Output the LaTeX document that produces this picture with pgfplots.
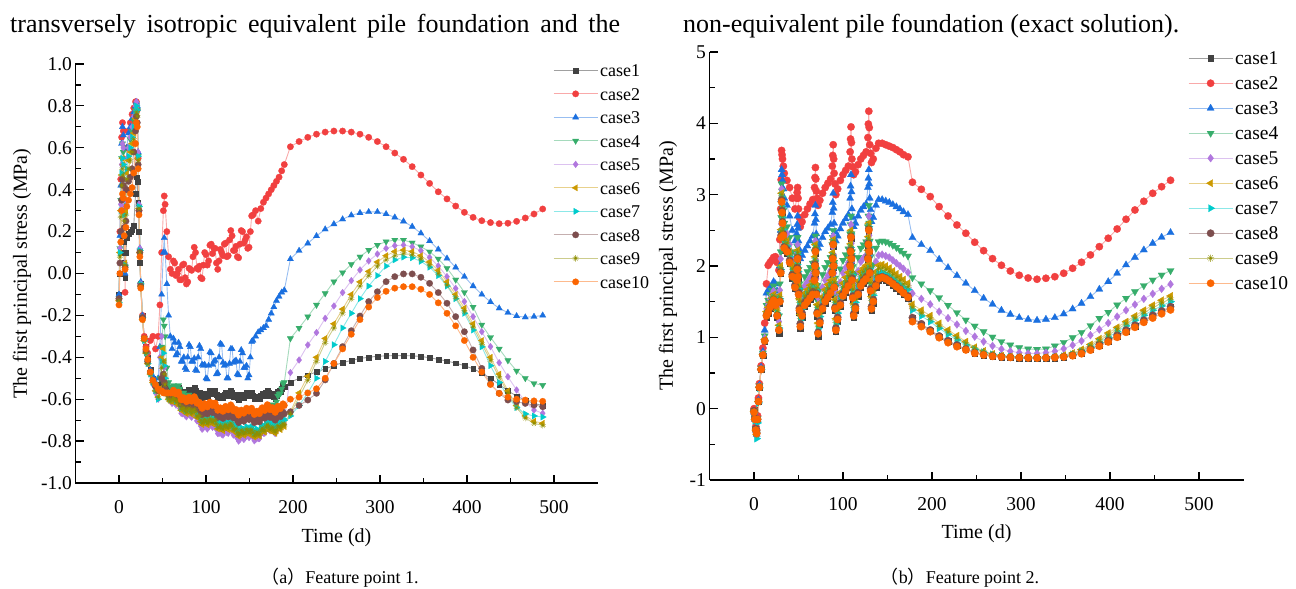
\documentclass[border=0pt]{standalone}
\usepackage{fontspec}
\setmainfont{Liberation Serif}
\newfontfamily\cjk{Noto Sans CJK SC}
\usepackage{pgfplots}
\usepackage{pgfplotstable}
\pgfplotsset{compat=1.18}

\definecolor{c1}{RGB}{66,66,66}
\definecolor{c2}{RGB}{241,64,64}
\definecolor{c3}{RGB}{26,111,223}
\definecolor{c4}{RGB}{55,173,107}
\definecolor{c5}{RGB}{177,119,222}
\definecolor{c6}{RGB}{204,153,0}
\definecolor{c7}{RGB}{0,203,204}
\definecolor{c8}{RGB}{125,78,78}
\definecolor{c9}{RGB}{142,142,0}
\definecolor{c10}{RGB}{251,101,1}

\newcommand\fs[1]{\fontsize{#1}{#1}\selectfont}

% feature point 1
\pgfplotstableread{
t c1 c2 c3 c4 c5 c6 c7 c8 c9 c10
0 -0.10 -0.12 -0.10 -0.12 -0.13 -0.13 -0.14 -0.12 -0.13 -0.15
1 0.00 0.20 0.18 0.12 0.12 0.10 0.10 0.05 0.08 0.00
2 0.10 0.45 0.42 0.35 0.33 0.30 0.30 0.20 0.27 0.15
3 0.15 0.65 0.62 0.55 0.52 0.47 0.48 0.35 0.42 0.30
4 0.18 0.72 0.70 0.62 0.62 0.55 0.55 0.45 0.50 0.38
5 0.15 0.68 0.66 0.58 0.60 0.52 0.52 0.42 0.47 0.36
6 0.05 0.30 0.35 0.30 0.32 0.28 0.28 0.22 0.25 0.18
7 -0.02 -0.09 0.00 0.02 0.05 0.05 0.04 0.03 0.04 0.02
8 0.10 0.40 0.40 0.35 0.35 0.30 0.32 0.25 0.28 0.22
9 0.17 0.60 0.60 0.55 0.55 0.48 0.50 0.40 0.45 0.32
11 0.19 0.68 0.67 0.60 0.60 0.54 0.56 0.44 0.50 0.35
13 0.20 0.72 0.70 0.64 0.65 0.58 0.60 0.46 0.54 0.38
15 0.21 0.76 0.74 0.68 0.70 0.62 0.65 0.50 0.58 0.41
17 0.23 0.79 0.77 0.73 0.75 0.67 0.70 0.58 0.64 0.48
19 0.38 0.82 0.80 0.78 0.80 0.74 0.77 0.68 0.72 0.62
20 0.46 0.82 0.82 0.80 0.82 0.78 0.80 0.75 0.77 0.72
21 0.44 0.78 0.80 0.78 0.80 0.76 0.78 0.72 0.75 0.70
22 0.34 0.55 0.58 0.56 0.58 0.55 0.56 0.52 0.54 0.50
23 0.20 0.30 0.33 0.32 0.33 0.31 0.32 0.30 0.31 0.28
24 0.05 0.10 0.12 0.11 0.12 0.10 0.11 0.10 0.10 0.08
25 -0.05 -0.05 -0.04 -0.05 -0.05 -0.06 -0.05 -0.06 -0.06 -0.07
27 -0.20 -0.20 -0.20 -0.21 -0.21 -0.22 -0.21 -0.21 -0.22 -0.22
29 -0.30 -0.30 -0.31 -0.31 -0.32 -0.32 -0.32 -0.31 -0.32 -0.31
31 -0.35 -0.35 -0.37 -0.37 -0.38 -0.38 -0.38 -0.37 -0.38 -0.36
33 -0.40 -0.38 -0.41 -0.42 -0.43 -0.43 -0.43 -0.42 -0.43 -0.41
36 -0.46 -0.32 -0.46 -0.47 -0.48 -0.48 -0.48 -0.47 -0.48 -0.47
39 -0.50 -0.30 -0.49 -0.51 -0.53 -0.52 -0.52 -0.51 -0.52 -0.51
42 -0.53 -0.36 -0.52 -0.54 -0.57 -0.56 -0.56 -0.54 -0.56 -0.53
45 -0.55 -0.30 -0.50 -0.55 -0.60 -0.59 -0.60 -0.56 -0.59 -0.55
47 -0.55 -0.15 -0.35 -0.50 -0.40 -0.55 -0.55 -0.56 -0.56 -0.56
49 -0.52 0.10 -0.10 -0.35 -0.30 -0.40 -0.42 -0.50 -0.45 -0.56
51 -0.52 0.30 0.10 -0.22 -0.38 -0.36 -0.38 -0.48 -0.42 -0.57
52 -0.53 0.37 0.17 -0.25 -0.45 -0.42 -0.44 -0.52 -0.48 -0.57
53 -0.54 0.33 0.10 -0.30 -0.50 -0.50 -0.50 -0.55 -0.53 -0.57
55 -0.55 0.20 -0.05 -0.45 -0.57 -0.57 -0.56 -0.57 -0.58 -0.57
57 -0.56 0.08 -0.20 -0.52 -0.60 -0.60 -0.59 -0.58 -0.60 -0.57
59 -0.56 0.02 -0.30 -0.54 -0.61 -0.61 -0.60 -0.59 -0.61 -0.57
61 -0.555 0.00 -0.36 -0.550 -0.620 -0.610 -0.600 -0.590 -0.604 -0.570
62.5 -0.540 0.06 -0.31 -0.534 -0.607 -0.598 -0.588 -0.577 -0.592 -0.557
64 -0.545 0.05 -0.33 -0.538 -0.613 -0.606 -0.595 -0.583 -0.600 -0.563
65.5 -0.556 -0.01 -0.39 -0.548 -0.628 -0.620 -0.609 -0.596 -0.614 -0.575
67 -0.546 0.00 -0.38 -0.538 -0.622 -0.613 -0.602 -0.589 -0.607 -0.567
68.5 -0.543 0.02 -0.33 -0.534 -0.624 -0.613 -0.602 -0.588 -0.607 -0.566
70 -0.560 -0.03 -0.35 -0.550 -0.645 -0.633 -0.621 -0.606 -0.627 -0.584
71.5 -0.577 -0.03 -0.42 -0.572 -0.667 -0.653 -0.641 -0.625 -0.647 -0.603
73 -0.573 0.04 -0.42 -0.573 -0.669 -0.653 -0.640 -0.624 -0.647 -0.601
74.5 -0.564 0.045 -0.40 -0.569 -0.663 -0.647 -0.634 -0.617 -0.641 -0.593
76 -0.575 -0.02 -0.45 -0.584 -0.677 -0.661 -0.647 -0.629 -0.655 -0.605
77.5 -0.580 -0.05 -0.46 -0.594 -0.684 -0.669 -0.655 -0.636 -0.663 -0.612
79 -0.564 -0.04 -0.40 -0.583 -0.671 -0.656 -0.642 -0.622 -0.650 -0.598
80.5 -0.555 0.025 -0.34 -0.579 -0.665 -0.650 -0.635 -0.615 -0.644 -0.591
82 -0.566 0.02 -0.35 -0.594 -0.679 -0.664 -0.648 -0.628 -0.658 -0.603
83.5 -0.571 0.015 -0.42 -0.604 -0.686 -0.672 -0.656 -0.635 -0.666 -0.610
85 -0.555 0.08 -0.42 -0.593 -0.673 -0.660 -0.643 -0.621 -0.654 -0.596
86.5 -0.546 0.125 -0.405 -0.589 -0.667 -0.654 -0.637 -0.614 -0.648 -0.588
88 -0.557 0.10 -0.46 -0.604 -0.681 -0.667 -0.650 -0.626 -0.661 -0.600
89.5 -0.574 0.025 -0.465 -0.626 -0.703 -0.687 -0.670 -0.645 -0.681 -0.619
91 -0.571 0.02 -0.40 -0.627 -0.705 -0.687 -0.669 -0.644 -0.681 -0.617
92.5 -0.568 0.035 -0.345 -0.629 -0.707 -0.687 -0.669 -0.643 -0.681 -0.615
94 -0.584 -0.02 -0.36 -0.650 -0.728 -0.707 -0.688 -0.661 -0.701 -0.633
95.5 -0.595 -0.025 -0.435 -0.666 -0.743 -0.721 -0.702 -0.674 -0.715 -0.644
97 -0.586 0.04 -0.44 -0.661 -0.737 -0.714 -0.695 -0.667 -0.708 -0.635
98.5 -0.571 0.10 -0.435 -0.651 -0.724 -0.702 -0.683 -0.654 -0.696 -0.621
100 -0.575 0.09 -0.50 -0.660 -0.730 -0.710 -0.690 -0.660 -0.704 -0.626
101.5 -0.586 0.04 -0.505 -0.671 -0.742 -0.722 -0.702 -0.671 -0.716 -0.637
103 -0.576 0.06 -0.44 -0.662 -0.734 -0.714 -0.694 -0.662 -0.708 -0.628
104.5 -0.560 0.135 -0.375 -0.648 -0.718 -0.700 -0.680 -0.648 -0.694 -0.614
106 -0.564 0.14 -0.38 -0.653 -0.722 -0.705 -0.685 -0.653 -0.699 -0.619
107.5 -0.575 0.095 -0.435 -0.664 -0.734 -0.717 -0.697 -0.664 -0.711 -0.630
109 -0.565 0.12 -0.42 -0.655 -0.726 -0.709 -0.689 -0.655 -0.703 -0.621
110.5 -0.561 0.12 -0.415 -0.653 -0.725 -0.707 -0.687 -0.653 -0.701 -0.618
112 -0.577 0.05 -0.48 -0.670 -0.744 -0.724 -0.704 -0.670 -0.718 -0.635
113.5 -0.594 0.02 -0.475 -0.687 -0.764 -0.742 -0.722 -0.687 -0.736 -0.653
115 -0.590 0.06 -0.40 -0.684 -0.763 -0.740 -0.720 -0.684 -0.734 -0.650
116.5 -0.581 0.115 -0.335 -0.675 -0.755 -0.732 -0.712 -0.675 -0.726 -0.641
118 -0.591 0.10 -0.34 -0.686 -0.767 -0.744 -0.724 -0.686 -0.738 -0.652
119.5 -0.595 0.085 -0.425 -0.692 -0.771 -0.750 -0.730 -0.692 -0.744 -0.658
121 -0.579 0.14 -0.44 -0.677 -0.755 -0.735 -0.715 -0.677 -0.729 -0.643
122.5 -0.570 0.145 -0.435 -0.668 -0.747 -0.727 -0.707 -0.668 -0.721 -0.634
124 -0.580 0.08 -0.50 -0.679 -0.759 -0.739 -0.719 -0.679 -0.733 -0.645
125.5 -0.585 0.085 -0.50 -0.685 -0.763 -0.745 -0.725 -0.685 -0.739 -0.651
127 -0.569 0.16 -0.43 -0.670 -0.747 -0.730 -0.710 -0.670 -0.724 -0.636
128.5 -0.559 0.205 -0.36 -0.661 -0.739 -0.722 -0.702 -0.661 -0.716 -0.627
130 -0.569 0.18 -0.36 -0.672 -0.751 -0.734 -0.714 -0.672 -0.728 -0.638
131.5 -0.586 0.11 -0.425 -0.689 -0.771 -0.752 -0.732 -0.689 -0.746 -0.655
133 -0.582 0.11 -0.42 -0.686 -0.770 -0.750 -0.730 -0.686 -0.744 -0.652
134.5 -0.578 0.13 -0.415 -0.684 -0.769 -0.748 -0.728 -0.684 -0.742 -0.649
136 -0.594 0.08 -0.48 -0.701 -0.788 -0.765 -0.745 -0.701 -0.759 -0.665
137.5 -0.605 0.075 -0.485 -0.712 -0.800 -0.777 -0.757 -0.712 -0.771 -0.676
139 -0.595 0.14 -0.42 -0.703 -0.792 -0.769 -0.749 -0.703 -0.763 -0.667
140.5 -0.579 0.205 -0.365 -0.689 -0.776 -0.755 -0.735 -0.689 -0.749 -0.652
142 -0.583 0.20 -0.38 -0.694 -0.780 -0.760 -0.740 -0.694 -0.754 -0.656
143.5 -0.594 0.145 -0.45 -0.705 -0.792 -0.772 -0.752 -0.705 -0.766 -0.667
145 -0.584 0.16 -0.45 -0.696 -0.784 -0.764 -0.744 -0.696 -0.758 -0.658
146.5 -0.569 0.175 -0.44 -0.681 -0.769 -0.750 -0.730 -0.681 -0.744 -0.643
148 -0.573 0.12 -0.50 -0.686 -0.773 -0.756 -0.736 -0.686 -0.750 -0.647
149.5 -0.583 0.125 -0.485 -0.696 -0.783 -0.767 -0.747 -0.697 -0.761 -0.657
151 -0.573 0.20 -0.40 -0.686 -0.773 -0.757 -0.737 -0.687 -0.751 -0.647
152.5 -0.569 0.275 -0.325 -0.680 -0.768 -0.752 -0.731 -0.682 -0.746 -0.643
154 -0.584 0.28 -0.32 -0.693 -0.783 -0.766 -0.745 -0.697 -0.760 -0.658
155.5 -0.600 nan nan -0.706 -0.798 -0.781 -0.759 -0.712 -0.775 -0.673
157 -0.595 0.30 -0.30 -0.699 -0.793 -0.775 -0.753 -0.707 -0.769 -0.668
158.5 -0.585 nan nan -0.687 -0.781 -0.764 -0.742 -0.696 -0.758 -0.657
160 -0.594 0.25 -0.28 -0.694 -0.788 -0.772 -0.750 -0.705 -0.766 -0.666
161.5 -0.598 nan nan -0.695 -0.788 -0.775 -0.752 -0.708 -0.769 -0.669
163 -0.581 0.31 -0.27 -0.676 -0.767 -0.757 -0.734 -0.690 -0.751 -0.652
164.5 -0.571 nan nan -0.664 -0.755 -0.746 -0.722 -0.679 -0.740 -0.641
166 -0.580 0.34 -0.26 -0.671 -0.762 -0.754 -0.730 -0.688 -0.748 -0.650
167.5 -0.584 nan nan -0.672 -0.762 -0.757 -0.732 -0.691 -0.751 -0.654
169 -0.567 0.36 -0.25 -0.653 -0.742 -0.739 -0.714 -0.674 -0.733 -0.637
170.5 -0.557 nan nan -0.641 -0.729 -0.728 -0.703 -0.663 -0.722 -0.626
172 -0.566 0.38 -0.22 -0.648 -0.736 -0.736 -0.711 -0.672 -0.730 -0.635
173.5 -0.582 nan nan -0.654 -0.751 -0.751 -0.725 -0.687 -0.745 -0.650
175 -0.577 0.40 -0.19 -0.640 -0.746 -0.745 -0.719 -0.681 -0.739 -0.645
176.5 -0.573 nan nan -0.626 -0.741 -0.740 -0.713 -0.676 -0.734 -0.640
178 -0.588 0.42 -0.16 -0.632 -0.756 -0.754 -0.727 -0.691 -0.748 -0.654
179.5 -0.596 nan nan -0.632 -0.764 -0.763 -0.735 -0.700 -0.757 -0.663
181 -0.584 0.44 -0.13 -0.612 -0.751 -0.751 -0.723 -0.689 -0.745 -0.651
182.5 -0.563 nan nan -0.584 -0.731 -0.734 -0.706 -0.672 -0.728 -0.634
184 -0.561 0.46 -0.11 -0.575 -0.730 -0.736 -0.708 -0.675 -0.730 -0.636
185.5 -0.566 nan nan -0.573 -0.738 -0.745 -0.716 -0.684 -0.739 -0.645
187 -0.551 0.49 -0.09 -0.550 -0.725 -0.733 -0.704 -0.672 -0.727 -0.633
188.5 -0.536 nan nan -0.525 -0.713 -0.722 -0.692 -0.661 -0.716 -0.622
190 -0.540 0.52 -0.08 -0.520 -0.720 -0.730 -0.700 -0.670 -0.724 -0.630
197 -0.520 0.605 0.069 -0.310 -0.473 -0.660 -0.680 -0.660 -0.670 -0.600
207 -0.500 0.630 0.109 -0.260 -0.413 -0.570 -0.630 -0.630 -0.590 -0.590
217 -0.485 0.650 0.144 -0.206 -0.341 -0.490 -0.570 -0.604 -0.510 -0.570
227 -0.470 0.665 0.179 -0.150 -0.282 -0.400 -0.500 -0.572 -0.420 -0.550
237 -0.455 0.675 0.211 -0.095 -0.214 -0.310 -0.420 -0.508 -0.330 -0.500
247 -0.440 0.680 0.236 -0.039 -0.155 -0.240 -0.340 -0.429 -0.260 -0.430
257 -0.425 0.680 0.259 0.004 -0.091 -0.170 -0.260 -0.349 -0.190 -0.360
267 -0.415 0.675 0.278 0.044 -0.034 -0.100 -0.190 -0.273 -0.120 -0.290
277 -0.405 0.665 0.289 0.080 0.017 -0.040 -0.120 -0.203 -0.060 -0.220
287 -0.400 0.650 0.294 0.112 0.060 0.010 -0.060 -0.134 -0.010 -0.160
297 -0.395 0.630 0.294 0.136 0.093 0.055 -0.010 -0.087 0.035 -0.115
307 -0.393 0.605 0.284 0.152 0.120 0.085 0.035 -0.039 0.065 -0.085
317 -0.392 0.575 0.268 0.160 0.133 0.105 0.065 -0.015 0.085 -0.070
327 -0.392 0.545 0.249 0.160 0.136 0.112 0.078 -0.002 0.095 -0.063
337 -0.393 0.510 0.224 0.147 0.128 0.105 0.075 -0.002 0.090 -0.063
347 -0.396 0.470 0.192 0.128 0.109 0.085 0.058 -0.018 0.070 -0.075
357 -0.402 0.430 0.155 0.104 0.077 0.055 0.030 -0.047 0.040 -0.100
367 -0.410 0.390 0.115 0.070 0.036 0.015 -0.010 -0.091 0.000 -0.140
377 -0.418 0.356 0.072 0.025 -0.015 -0.040 -0.060 -0.142 -0.055 -0.190
387 -0.428 0.322 0.029 -0.030 -0.071 -0.100 -0.120 -0.206 -0.115 -0.250
397 -0.440 0.292 -0.015 -0.090 -0.134 -0.165 -0.190 -0.278 -0.180 -0.320
407 -0.455 0.268 -0.060 -0.160 -0.206 -0.240 -0.270 -0.365 -0.255 -0.400
417 -0.475 0.252 -0.100 -0.245 -0.278 -0.320 -0.350 -0.453 -0.335 -0.470
427 -0.500 0.243 -0.136 -0.305 -0.349 -0.400 -0.440 -0.527 -0.415 -0.530
437 -0.530 0.238 -0.166 -0.360 -0.426 -0.480 -0.520 -0.572 -0.495 -0.572
447 -0.560 0.240 -0.187 -0.415 -0.493 -0.560 -0.590 -0.604 -0.570 -0.590
457 -0.585 0.249 -0.203 -0.465 -0.556 -0.630 -0.640 -0.612 -0.640 -0.600
467 -0.605 0.265 -0.209 -0.500 -0.612 -0.680 -0.670 -0.620 -0.690 -0.604
477 -0.620 0.284 -0.206 -0.525 -0.652 -0.705 -0.680 -0.628 -0.715 -0.608
487 -0.630 0.308 -0.200 -0.533 -0.667 -0.715 -0.685 -0.636 -0.725 -0.610
}\tabA

% feature point 2
\pgfplotstableread{
t c1 c2 c3 c4 c5 c6 c7 c8 c9 c10
0 -0.02 0.00 -0.05 -0.03 -0.05 -0.04 -0.06 -0.03 -0.04 -0.05
1 -0.12 -0.10 -0.15 -0.13 -0.14 -0.15 -0.17 -0.13 -0.15 -0.15
2 -0.28 -0.25 -0.30 -0.28 -0.30 -0.30 -0.33 -0.28 -0.30 -0.30
3 -0.33 -0.30 -0.36 -0.34 -0.35 -0.36 -0.42 -0.34 -0.36 -0.35
4 -0.15 -0.10 -0.15 -0.14 -0.15 -0.16 -0.20 -0.15 -0.16 -0.15
5 0.10 0.15 0.12 0.10 0.10 0.10 0.08 0.10 0.10 0.10
6 0.30 0.35 0.33 0.32 0.31 0.30 0.29 0.30 0.30 0.30
8 0.55 0.60 0.58 0.57 0.56 0.55 0.55 0.55 0.55 0.55
10 0.74 0.85 0.80 0.78 0.77 0.76 0.75 0.75 0.76 0.75
12 0.94 1.20 1.10 1.02 0.99 0.97 0.96 0.95 0.96 0.95
14 1.28 1.75 1.62 1.45 1.40 1.36 1.33 1.31 1.34 1.30
16 1.33 2.01 1.66 1.52 1.46 1.42 1.39 1.36 1.40 1.35
18 1.40 2.05 1.69 1.60 1.54 1.49 1.46 1.43 1.47 1.42
20 1.45 2.08 1.71 1.66 1.60 1.55 1.52 1.49 1.53 1.48
22 1.50 2.12 1.78 1.72 1.65 1.60 1.56 1.53 1.58 1.52
24 1.43 2.13 1.75 1.65 1.58 1.53 1.49 1.46 1.51 1.45
26 1.28 2.05 1.65 1.50 1.43 1.38 1.34 1.31 1.36 1.30
28 1.05 1.94 1.50 1.30 1.22 1.17 1.13 1.10 1.15 1.10
29 1.48 2.37 2.00 1.75 1.66 1.59 1.54 1.51 1.56 1.50
30 1.90 2.80 2.50 2.20 2.10 2.00 1.95 1.92 1.97 1.90
30.5 2.40 3.21 2.93 2.68 2.59 2.51 2.46 2.43 2.49 2.40
31 2.90 3.62 3.35 3.15 3.08 3.02 2.97 2.93 3.00 2.90
31.5 2.74 3.56 3.28 3.05 2.97 2.89 2.83 2.78 2.85 2.75
32 2.58 3.50 3.20 2.95 2.85 2.75 2.68 2.62 2.70 2.60
33 2.40 3.40 3.08 2.78 2.68 2.58 2.51 2.45 2.53 2.43
34 2.22 3.30 2.95 2.60 2.50 2.40 2.33 2.27 2.36 2.25
37 2.18 3.20 2.85 2.55 2.45 2.35 2.28 2.23 2.32 2.20
40 2.03 3.10 2.70 2.40 2.30 2.20 2.13 2.08 2.16 2.05
43 1.83 2.95 2.50 2.20 2.10 2.00 1.93 1.88 1.96 1.85
46 1.68 2.80 2.35 2.05 1.95 1.85 1.78 1.73 1.81 1.70
48 1.78 2.95 2.45 2.15 2.05 1.95 1.88 1.83 1.91 1.80
48.5 1.93 3.03 2.58 2.28 2.18 2.09 2.02 1.98 2.05 1.95
49 2.08 3.10 2.70 2.40 2.30 2.22 2.16 2.12 2.19 2.10
49.5 1.83 2.95 2.53 2.18 2.08 1.99 1.92 1.88 1.95 1.85
50 1.58 2.80 2.35 1.95 1.85 1.75 1.68 1.63 1.71 1.60
51 1.35 2.68 2.23 1.75 1.64 1.54 1.46 1.41 1.50 1.38
52 1.12 2.55 2.10 1.55 1.42 1.32 1.24 1.19 1.28 1.15
54 1.28 2.62 2.15 1.70 1.57 1.47 1.40 1.34 1.43 1.30
57 1.43 2.72 2.22 1.85 1.72 1.62 1.55 1.49 1.58 1.45
60 1.48 2.80 2.28 1.92 1.78 1.67 1.60 1.54 1.63 1.50
63 1.53 2.87 2.35 1.98 1.84 1.73 1.65 1.59 1.69 1.55
66 1.58 2.93 2.42 2.04 1.90 1.79 1.71 1.64 1.75 1.60
68 1.78 3.10 2.60 2.20 2.05 1.95 1.88 1.83 1.91 1.80
68.5 1.98 3.24 2.73 2.31 2.20 2.13 2.07 2.03 2.09 2.00
69 2.18 3.38 2.85 2.42 2.35 2.30 2.25 2.22 2.27 2.20
69.5 1.88 3.22 2.65 2.19 2.09 2.01 1.96 1.92 1.98 1.90
70 1.58 3.05 2.45 1.95 1.82 1.72 1.66 1.62 1.69 1.60
71 1.30 2.95 2.35 1.73 1.57 1.46 1.39 1.35 1.43 1.33
72 1.02 2.85 2.25 1.50 1.32 1.20 1.12 1.07 1.16 1.05
74 1.18 2.92 2.30 1.68 1.50 1.37 1.29 1.23 1.33 1.20
77 1.38 3.02 2.40 1.88 1.70 1.57 1.49 1.43 1.53 1.40
80 1.48 3.10 2.48 1.98 1.80 1.67 1.59 1.53 1.63 1.50
83 1.54 3.16 2.53 2.05 1.87 1.74 1.65 1.59 1.69 1.56
86 1.60 3.22 2.58 2.12 1.94 1.80 1.71 1.65 1.76 1.62
88 1.88 3.40 2.75 2.30 2.12 2.00 1.95 1.92 1.97 1.90
88.5 2.08 3.55 2.89 2.40 2.27 2.19 2.14 2.12 2.16 2.10
89 2.28 3.70 3.02 2.50 2.42 2.37 2.33 2.31 2.35 2.30
89.5 1.98 3.50 2.81 2.28 2.16 2.09 2.04 2.01 2.06 2.00
90 1.68 3.30 2.60 2.05 1.90 1.80 1.74 1.71 1.77 1.70
91 1.38 3.15 2.48 1.83 1.65 1.53 1.46 1.42 1.50 1.40
92 1.08 3.00 2.35 1.60 1.40 1.26 1.18 1.13 1.22 1.10
94 1.23 3.08 2.42 1.75 1.56 1.42 1.34 1.28 1.38 1.25
97 1.43 3.20 2.52 1.96 1.77 1.63 1.54 1.48 1.58 1.45
100 1.56 3.28 2.60 2.08 1.90 1.76 1.67 1.61 1.71 1.58
103 1.63 3.34 2.66 2.16 1.98 1.84 1.75 1.68 1.79 1.65
106 1.70 3.40 2.72 2.24 2.05 1.91 1.82 1.75 1.86 1.72
108 1.98 3.60 2.95 2.45 2.25 2.12 2.06 2.02 2.09 2.00
108.5 2.18 3.78 3.12 2.58 2.42 2.31 2.26 2.22 2.28 2.20
109 2.38 3.95 3.28 2.70 2.58 2.50 2.45 2.42 2.47 2.40
109.5 2.08 3.73 3.04 2.45 2.32 2.23 2.17 2.13 2.19 2.10
110 1.78 3.50 2.80 2.20 2.05 1.95 1.88 1.83 1.91 1.80
111 1.53 3.39 2.68 1.99 1.83 1.71 1.64 1.58 1.67 1.55
112 1.28 3.28 2.55 1.78 1.60 1.47 1.39 1.33 1.43 1.30
114 1.38 3.32 2.60 1.90 1.72 1.58 1.49 1.43 1.54 1.40
117 1.58 3.42 2.70 2.12 1.93 1.79 1.70 1.63 1.74 1.60
120 1.70 3.50 2.78 2.25 2.06 1.92 1.82 1.75 1.87 1.72
123 1.76 3.55 2.83 2.30 2.11 1.97 1.88 1.81 1.92 1.78
126 1.80 3.60 2.87 2.34 2.15 2.01 1.92 1.85 1.96 1.82
128 2.08 3.80 3.10 2.55 2.35 2.22 2.15 2.12 2.18 2.10
128.5 2.28 3.99 3.23 2.70 2.53 2.41 2.35 2.32 2.38 2.30
129 2.48 4.17 3.35 2.85 2.70 2.60 2.55 2.52 2.57 2.50
129.5 2.18 3.94 3.15 2.60 2.43 2.32 2.26 2.22 2.28 2.20
130 1.88 3.70 2.95 2.35 2.15 2.03 1.96 1.92 1.99 1.90
131 1.63 3.58 2.79 2.13 1.93 1.80 1.72 1.68 1.76 1.65
132 1.38 3.45 2.62 1.90 1.70 1.57 1.48 1.43 1.53 1.40
134 1.48 3.50 2.68 2.02 1.82 1.68 1.59 1.53 1.63 1.50
137 1.70 3.65 2.85 2.25 2.06 1.92 1.82 1.75 1.87 1.72
140 1.80 3.72 2.93 2.34 2.15 2.01 1.90 1.84 1.96 1.82
144 1.82 3.72 2.93 2.35 2.16 2.02 1.91 1.85 1.97 1.84
148 1.80 3.70 2.91 2.34 2.14 2.00 1.89 1.83 1.95 1.82
152 1.77 3.68 2.89 2.32 2.12 1.97 1.86 1.80 1.92 1.79
156 1.73 3.66 2.86 2.29 2.08 1.93 1.82 1.76 1.88 1.75
160 1.69 3.63 2.83 2.26 2.04 1.89 1.78 1.72 1.84 1.71
164 1.65 3.60 2.80 2.22 2.00 1.85 1.74 1.68 1.80 1.67
168 1.60 3.56 2.76 2.18 1.96 1.81 1.70 1.63 1.75 1.62
173 1.54 3.53 2.72 2.14 1.91 1.76 1.67 1.58 1.71 1.56
178 1.266 3.174 2.397 1.837 1.617 1.463 1.384 1.276 1.420 1.220
188 1.180 3.075 2.300 1.750 1.540 1.380 1.300 1.190 1.340 1.150
198 1.093 2.973 2.215 1.654 1.463 1.304 1.220 1.103 1.262 1.079
208 1.009 2.832 2.094 1.556 1.360 1.197 1.127 1.019 1.162 0.995
218 0.943 2.701 1.977 1.449 1.270 1.103 1.043 0.953 1.073 0.925
228 0.883 2.575 1.865 1.346 1.180 1.023 0.963 0.893 0.993 0.869
238 0.827 2.459 1.758 1.243 1.090 0.940 0.893 0.837 0.917 0.823
248 0.780 2.333 1.654 1.159 1.010 0.861 0.832 0.790 0.847 0.776
258 0.752 2.215 1.548 1.079 0.940 0.809 0.790 0.762 0.800 0.753
268 0.733 2.103 1.464 1.005 0.880 0.767 0.762 0.743 0.765 0.733
278 0.720 2.010 1.379 0.940 0.835 0.743 0.740 0.730 0.742 0.725
288 0.712 1.930 1.323 0.893 0.805 0.730 0.728 0.722 0.729 0.718
298 0.707 1.870 1.276 0.855 0.785 0.725 0.720 0.717 0.722 0.714
308 0.704 1.832 1.253 0.837 0.775 0.720 0.717 0.714 0.718 0.712
318 0.702 1.814 1.239 0.832 0.775 0.720 0.715 0.712 0.717 0.710
328 0.704 1.828 1.253 0.837 0.785 0.722 0.717 0.714 0.719 0.712
338 0.710 1.850 1.276 0.879 0.805 0.730 0.722 0.720 0.726 0.716
348 0.720 1.898 1.328 0.930 0.840 0.750 0.735 0.730 0.742 0.725
358 0.740 1.968 1.398 0.995 0.890 0.780 0.760 0.750 0.770 0.742
368 0.775 2.052 1.477 1.070 0.950 0.830 0.800 0.785 0.815 0.770
378 0.830 2.155 1.570 1.164 1.030 0.900 0.860 0.840 0.880 0.820
388 0.890 2.271 1.674 1.267 1.110 0.980 0.930 0.900 0.955 0.875
398 0.950 2.389 1.780 1.351 1.200 1.060 1.000 0.960 1.030 0.935
408 1.020 2.519 1.898 1.454 1.290 1.140 1.080 1.030 1.110 1.000
418 1.090 2.655 2.015 1.548 1.380 1.220 1.160 1.100 1.190 1.070
428 1.160 2.785 2.122 1.640 1.460 1.300 1.240 1.170 1.270 1.140
438 1.230 2.907 2.225 1.725 1.540 1.380 1.310 1.240 1.345 1.210
448 1.300 3.019 2.318 1.804 1.610 1.450 1.380 1.310 1.415 1.270
458 1.360 3.112 2.403 1.874 1.680 1.520 1.440 1.370 1.480 1.330
468 1.420 3.202 2.468 1.935 1.744 1.580 1.500 1.430 1.540 1.384
}\tabB

\pgfplotsset{
  panel/.style={
    scale only axis,
    axis x line*=bottom, axis y line*=left,
    axis line style={line width=1.3pt, black},
    tick align=inside,
    major tick length=8pt, minor tick length=5pt,
    tick style={line width=1.2pt, black},
    xmin=-50, xmax=550, xtick={0,100,...,500}, minor x tick num=1,
    unbounded coords=discard,
    /pgf/number format/assume math mode=true,
    ticklabel style={font=\fs{19.5}},
    xticklabel style={yshift=-14pt},
    label style={font=\fs{20}},
    xlabel={Time (d)},
    ylabel={The first principal stress (MPa)},
    legend cell align=left,
    legend image code/.code={\draw[mark repeat=2,mark phase=2] plot coordinates {(0pt,0pt)(22pt,0pt)(44pt,0pt)};},
  },
  mk/.style={line width=0.9pt, mark size=3.2pt},
  s1/.style={mk, color=c1!50, mark=square*, mark size=2.4pt, mark options={solid, line width=0.3pt, draw=c1, fill=c1}},
  s2/.style={mk, color=c2!45, mark=*, mark options={solid, line width=0.3pt, draw=c2, fill=c2}},
  s3/.style={mk, color=c3!45, mark=triangle*, mark size=3.6pt, mark options={solid, line width=0.3pt, draw=c3, fill=c3}},
  s4/.style={mk, color=c4!45, mark=triangle*, mark size=3.6pt, mark options={solid, rotate=180, line width=0.3pt, draw=c4, fill=c4}},
  s5/.style={mk, color=c5!45, mark=diamond*, mark size=3.4pt, mark options={solid, line width=0.3pt, draw=c5, fill=c5}},
  s6/.style={mk, color=c6!45, mark=triangle*, mark size=3.6pt, mark options={solid, rotate=90, line width=0.3pt, draw=c6, fill=c6}},
  s7/.style={mk, color=c7!45, mark=triangle*, mark size=3.6pt, mark options={solid, rotate=-90, line width=0.3pt, draw=c7, fill=c7}},
  s8/.style={mk, color=c8!45, mark=*, mark options={solid, line width=0.3pt, draw=c8, fill=c8}},
  s9/.style={mk, color=c9!45, mark=10-pointed star, mark size=3.2pt, mark options={solid, line width=0.3pt, draw=c9, fill=c9}},
  s10/.style={mk, color=c10!45, mark=*, mark options={solid, line width=0.3pt, draw=c10, fill=c10}},
}

\begin{document}
\begin{tikzpicture}
\useasboundingbox (0pt,0pt) rectangle (1296pt,589pt);

\node[anchor=base west, inner sep=0pt, font=\fs{26}] at (10pt,556pt)
  {\makebox[610pt][s]{transversely isotropic equivalent pile foundation and the}};
\node[anchor=base west, inner sep=0pt, font=\fs{26}] at (683pt,556pt)
  {non-equivalent pile foundation (exact solution).};

\begin{axis}[panel, at={(75.5pt,106pt)}, anchor=south west,
  width=522pt, height=419pt,
  ymin=-1, ymax=1, ytick={-1,-0.8,-0.6,-0.4,-0.2,0,0.2,0.4,0.6,0.8,1}, minor y tick num=1,
  yticklabel style={/pgf/number format/fixed, /pgf/number format/fixed zerofill, /pgf/number format/precision=1},
  xlabel style={at={(axis description cs:0.5,-0.131)}, anchor=center},
  ylabel style={at={(axis description cs:-0.1025,0.5)}, anchor=center},
  legend style={at={(0.9147,1.005)}, anchor=north west, draw=none, fill=none,
    font=\fs{18}, row sep=7pt, inner sep=0pt,
    nodes={inner sep=2pt, text height=12.5pt, text depth=0pt}},
]
\addplot[s1] table[x=t,y=c1]{\tabA};
\addplot[s2] table[x=t,y=c2]{\tabA};
\addplot[s3] table[x=t,y=c3]{\tabA};
\addplot[s4] table[x=t,y=c4]{\tabA};
\addplot[s5] table[x=t,y=c5]{\tabA};
\addplot[s6] table[x=t,y=c6]{\tabA};
\addplot[s7] table[x=t,y=c7]{\tabA};
\addplot[s8] table[x=t,y=c8]{\tabA};
\addplot[s9] table[x=t,y=c9]{\tabA};
\addplot[s10] table[x=t,y=c10]{\tabA};
\legend{case1,case2,case3,case4,case5,case6,case7,case8,case9,case10}
\end{axis}

\begin{axis}[panel, at={(709.5pt,109pt)}, anchor=south west,
  width=534pt, height=428pt,
  ymin=-1, ymax=5, ytick={-1,0,1,2,3,4,5}, minor y tick num=1,
  every axis plot post/.append style={every mark/.append style={scale=1.15}},
  xlabel style={at={(axis description cs:0.5,-0.126)}, anchor=center},
  ylabel style={at={(axis description cs:-0.0777,0.5)}, anchor=center},
  legend style={at={(0.896,1.006)}, anchor=north west, draw=none, fill=none,
    font=\fs{19.5}, row sep=7.8pt, inner sep=0pt,
    nodes={inner sep=2pt, text height=13.2pt, text depth=0pt}},
]
\addplot[s1] table[x=t,y=c1]{\tabB};
\addplot[s2] table[x=t,y=c2]{\tabB};
\addplot[s3] table[x=t,y=c3]{\tabB};
\addplot[s4] table[x=t,y=c4]{\tabB};
\addplot[s5] table[x=t,y=c5]{\tabB};
\addplot[s6] table[x=t,y=c6]{\tabB};
\addplot[s7] table[x=t,y=c7]{\tabB};
\addplot[s8] table[x=t,y=c8]{\tabB};
\addplot[s9] table[x=t,y=c9]{\tabB};
\addplot[s10] table[x=t,y=c10]{\tabB};
\legend{case1,case2,case3,case4,case5,case6,case7,case8,case9,case10}
\end{axis}

\node[anchor=base, inner sep=0pt, font=\fs{18}] at (340pt,5pt) {{\cjk （}a{\cjk ）}Feature point 1.};
\node[anchor=base, inner sep=0pt, font=\fs{18}] at (960pt,5pt) {{\cjk （}b{\cjk ）}Feature point 2.};
\end{tikzpicture}
\end{document}
